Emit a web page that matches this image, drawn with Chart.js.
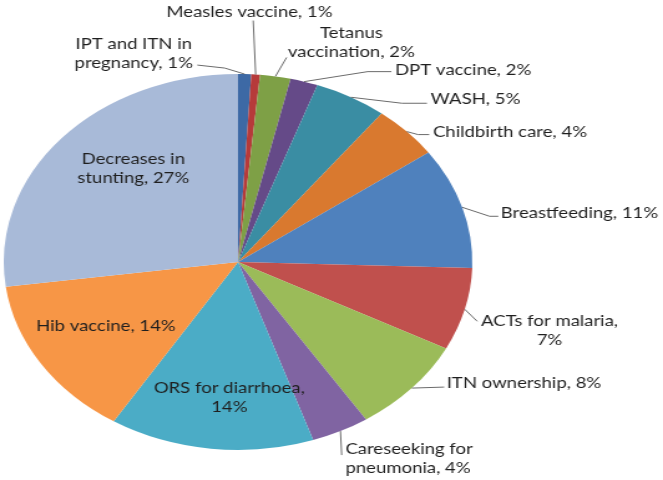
<!DOCTYPE html>
<html>
<head>
<meta charset="utf-8">
<script src="https://cdn.jsdelivr.net/npm/chart.js@4/dist/chart.umd.min.js"></script>
<style>
  html, body { margin: 0; padding: 0; background: #ffffff; }
  #wrap { width: 532px; height: 480px; transform: scaleX(1.2462); transform-origin: 0 0; }
</style>
</head>
<body>
<div id="wrap"><canvas id="pieChart" width="532" height="480"></canvas></div>
<script>
// ----------------- DATA -----------------
var categories = ["IPT and ITN in pregnancy", "Measles vaccine", "Tetanus vaccination", "DPT vaccine",
                  "WASH", "Childbirth care", "Breastfeeding", "ACTs for malaria", "ITN ownership",
                  "Careseeking for pneumonia", "ORS for diarrhoea", "Hib vaccine", "Decreases in stunting"];
// share of lives saved
var shares = [0.9, 0.6, 2.1, 1.9, 5.0, 4.6, 10.4, 7.1, 8.2, 4.0, 14.1, 14.0, 27.1];
// percentages printed on the labels
var pctLabels = ["1%", "1%", "2%", "2%", "5%", "4%", "11%", "7%", "8%", "4%", "14%", "14%", "27%"];

// ----------------- STYLE -----------------
var colors = ["#3d69a5", "#b63a3a", "#7ea046", "#654a88", "#3a8da3", "#d9792f", "#4f81bd",
              "#c0504d", "#9bbb59", "#8064a2", "#4bacc6", "#f79646", "#a8bad8"];

// words kept on the first line of a wrapped label (0 = one line)
var wrapWords = [4, 0, 1, 0, 0, 0, 0, 3, 0, 2, 3, 0, 2];

// label layout: offsets from the slice's outer edge (or from the centre when inside)
var labelLayout = [
    {leader: [[-16, -6], [-38, -9]], tx: -89, ty: -21, align: "center"},
    {leader: [[-2, -54]],            tx: -5,  ty: -63, align: "center"},
    {leader: [[9, -19]],             tx: 61,  ty: -34, align: "center"},
    {leader: [[51, -10], [70, -10]], tx: 73,  ty: -12, align: "left"},
    {leader: [[41, 6], [61, 6]],     tx: 64,  ty: 2,   align: "left"},
    {leader: [[9, 3], [18, 3]],      tx: 21,  ty: 0,   align: "left"},
    {leader: [[22, 9], [29, 9]],     tx: 31,  ty: 6,   align: "left"},
    {leader: [[10, 12]],             tx: 68,  ty: 21,  align: "center"},
    {leader: [[26, -1]],             tx: 28,  ty: -5,  align: "left"},
    {leader: [[1, 24]],              tx: 4,   ty: 27,  align: "left"},
    {inside: true,                   tx: -7,  ty: 135, align: "center"},
    {inside: true,                   tx: -106, ty: 64, align: "center"},
    {inside: true,                   tx: -84, ty: -94, align: "center"}
];

var FONT = "16px Lato";
var TEXT_SQUEEZE = 0.93;   // Lato runs a little wider than the original face
var LINE_H = 19;

// ----------------- HELPERS -----------------
function labelLines(i) {
    var words = (categories[i] + ", " + pctLabels[i]).split(" ");
    var n = wrapWords[i];
    if (n === 0) return [words.join(" ")];
    return [words.slice(0, n).join(" "), words.slice(n).join(" ")];
}

// draws leader lines and data labels from the arc geometry
var pieLabels = {
    id: "pieLabels",
    afterDatasetsDraw: function(chart) {
        var ctx = chart.ctx;
        var meta = chart.getDatasetMeta(0);
        ctx.save();
        ctx.font = FONT;
        ctx.textBaseline = "middle";
        meta.data.forEach(function(arc, i) {
            var p = arc.getProps(["x", "y", "startAngle", "endAngle", "outerRadius"], true);
            var mid = (p.startAngle + p.endAngle) / 2;
            var lay = labelLayout[i];
            var ox, oy;
            if (lay.inside) {
                ox = p.x; oy = p.y;
            } else {
                ox = p.x + Math.cos(mid) * p.outerRadius;
                oy = p.y + Math.sin(mid) * p.outerRadius;
                ctx.strokeStyle = "#6b6b6b";
                ctx.lineWidth = 1;
                ctx.beginPath();
                ctx.moveTo(ox, oy);
                lay.leader.forEach(function(pt) { ctx.lineTo(ox + pt[0], oy + pt[1]); });
                ctx.stroke();
            }
            var lines = labelLines(i);
            ctx.fillStyle = "#1f1f1f";
            ctx.textAlign = lay.align;
            for (var k = 0; k < lines.length; k++) {
                var ly = oy + lay.ty + (k - (lines.length - 1) / 2) * LINE_H;
                ctx.save();
                ctx.translate(ox + lay.tx, ly);
                ctx.scale(TEXT_SQUEEZE, 1);
                ctx.fillText(lines[k], 0, 0);
                ctx.restore();
            }
        });
        ctx.restore();
    }
};

// ----------------- CHART -----------------
new Chart(document.getElementById("pieChart"), {
    type: "pie",
    data: {
        labels: categories,
        datasets: [{
            data: shares,
            backgroundColor: colors,
            borderWidth: 0
        }]
    },
    options: {
        responsive: false,
        animation: false,
        layout: { padding: { left: 3, right: 153, top: 74, bottom: 30 } },
        plugins: {
            legend: { display: false },
            tooltip: { enabled: false }
        }
    },
    plugins: [pieLabels]
});
</script>
</body>
</html>
